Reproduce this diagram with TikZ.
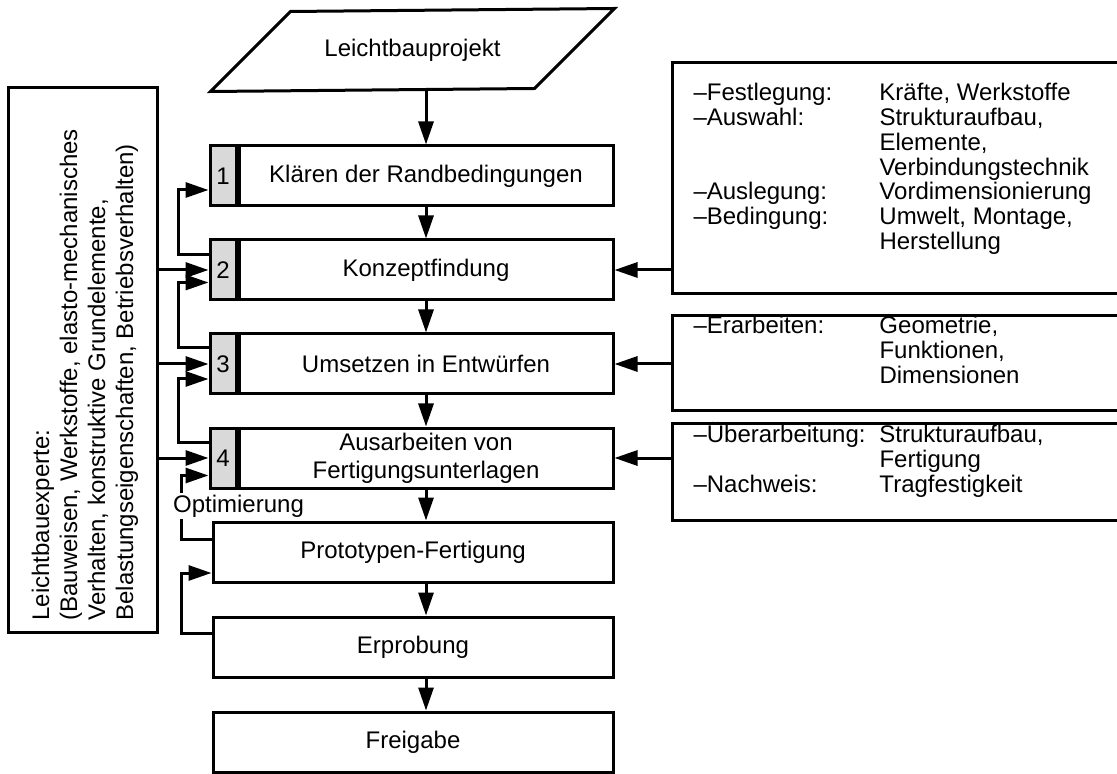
\documentclass[tikz,border=0pt]{standalone}
\usepackage{fontspec}
\setmainfont{Liberation Sans}
\usetikzlibrary{arrows.meta}

\begin{document}
\begin{tikzpicture}[x=0.5pt, y=-0.5pt, line width=1.5pt, font=\fontsize{12}{14}\selectfont]
    % Define styles
    \tikzset{
        stepbox/.style={draw, minimum width=187pt, minimum height=30pt, inner sep=0pt, align=center},
        nrcell/.style={draw, fill=gray!30, minimum width=13pt, minimum height=30pt, inner sep=0pt, anchor=east},
        widebox/.style={draw, minimum width=200pt, minimum height=30pt, inner sep=0pt, align=center},
        infobox/.style={draw, minimum width=229pt, inner sep=0pt},
        infotext/.style={anchor=base west, inner sep=0pt, font=\fontsize{12}{12.2}\selectfont},
        pfeil/.style={-{Triangle[length=11.5pt, width=7.5pt]}, line width=1.5pt}
    }
    \useasboundingbox (0,0) rectangle (1117,774);

    % Start
    \node[minimum width=200.5pt, minimum height=40pt, inner sep=0pt] (projekt) at (412.5,50) {Leichtbauprojekt};
    \draw[line join=miter] (projekt.south west) -- ++(80,-80) -- (projekt.north east) -- ++(-80,80) -- cycle;

    % Main steps
    \node[stepbox] (k1) at (426,176) {Klären der Randbedingungen};
    \node[stepbox] (k2) at (426,270) {Konzeptfindung};
    \node[stepbox] (k3) at (426,364) {Umsetzen in Entwürfen};
    \node[stepbox] (k4) at (426,458) {Ausarbeiten von\\Fertigungsunterlagen};
    \node[nrcell] (n1) at (k1.west) {1};
    \node[nrcell] (n2) at (k2.west) {2};
    \node[nrcell] (n3) at (k3.west) {3};
    \node[nrcell] (n4) at (k4.west) {4};
    \node[widebox] (proto) at (413,552) {Prototypen-Fertigung};
    \node[widebox] (erprob) at (413,647) {Erprobung};
    \node[widebox] (freigabe) at (413,742) {Freigabe};

    % Expert
    \node[draw, minimum width=74.5pt, minimum height=272pt, inner sep=0pt] (expert) at (82.5,360) {};
    \node[rotate=90, anchor=west, align=left, inner sep=0pt] (experttext) at (85,622)
        {Leichtbauexperte:\\(Bauweisen, Werkstoffe, elasto-mechanisches\\Verhalten, konstruktive Grundelemente,\\Belastungseigenschaften, Betriebsverhalten)};

    % Tasks
    \node[infobox, minimum height=115.5pt] (rA) at (901,178.5) {};
    \node[infotext] (tA) at (692,101) {\begin{tabular}[t]{@{}p{93pt}@{}l@{}}
        –Festlegung: & Kräfte, Werkstoffe\\
        –Auswahl: & Strukturaufbau,\\
         & Elemente,\\
         & Verbindungstechnik\\
        –Auslegung: & Vordimensionierung\\
        –Bedingung: & Umwelt, Montage,\\
         & Herstellung
    \end{tabular}};
    \node[infobox, minimum height=47.5pt] (rB) at (901,363.5) {};
    \node[infotext] (tB) at (692,334) {\begin{tabular}[t]{@{}p{93pt}@{}l@{}}
        –Erarbeiten: & Geometrie,\\
         & Funktionen,\\
         & Dimensionen
    \end{tabular}};
    \node[infobox, minimum height=48.5pt] (rC) at (901,471.5) {};
    \node[infotext] (tC) at (692,443) {\begin{tabular}[t]{@{}p{93pt}@{}l@{}}
        –Überarbeitung: & Strukturaufbau,\\
         & Fertigung\\
        –Nachweis: & Tragfestigkeit
    \end{tabular}};

    % Arrows down
    \draw[pfeil] (projekt.south -| k1.north) -- (k1.north);
    \draw[pfeil] (k1.south) -- (k2.north);
    \draw[pfeil] (k2.south) -- (k3.north);
    \draw[pfeil] (k3.south) -- (k4.north);
    \draw[pfeil] (k4.south) -- (k4.south |- proto.north);
    \draw[pfeil] (proto.south -| k4.south) -- (erprob.north -| k4.south);
    \draw[pfeil] (erprob.south -| k4.south) -- (freigabe.north -| k4.south);

    % Arrows from expert and tasks
    \foreach \n in {n2,n3,n4}
        \draw[pfeil] (expert.east |- \n.west) -- (\n.west);
    \draw[pfeil] (rA.west |- k2.east) -- (k2.east);
    \draw[pfeil] (rB.west |- k3.east) -- (k3.east);
    \draw[pfeil] (rC.west |- k4.east) -- (k4.east);

    % Feedback
    \draw[pfeil] ([yshift=7.75pt]n2.west) -- ++(-30,0) |- ([yshift=-7pt]n1.west);
    \draw[pfeil] ([yshift=8pt]n3.west) -- ++(-30,0) |- ([yshift=-6.25pt]n2.west);
    \draw[pfeil] ([yshift=7.75pt]n4.west) -- ++(-30,0) |- ([yshift=-7.5pt]n3.west);
    \draw[pfeil] ([yshift=6.5pt]proto.west) -- ++(-30,0) |- ([yshift=-8.75pt]n4.west);
    \draw[pfeil] ([yshift=7pt]erprob.west) -- ++(-30,0) |- ([yshift=-10.5pt]proto.west);
    \node[fill=white, inner sep=1pt] (opt) at (238.5,506) {Optimierung};
\end{tikzpicture}
\end{document}
